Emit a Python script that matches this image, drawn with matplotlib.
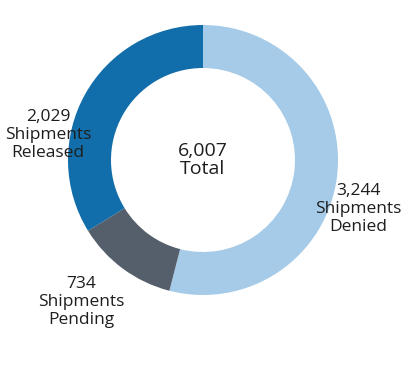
import matplotlib.pyplot as plt
from matplotlib.patches import Rectangle

labels = ['Shipments\nDenied', 'Shipments\nPending', 'Shipments\nReleased']
values = [3244, 734, 2029]
colors = ['#a5cbe8', '#555e6b', '#116eaa']
total = sum(values)

plt.rcParams['font.family'] = ['Open Sans', 'DejaVu Sans']

fig = plt.figure(figsize=(4.14, 3.82), dpi=100)
ax = fig.add_axes([0, 0, 1, 1])

# donut, clockwise from 12 o'clock
ax.pie(values, colors=colors, startangle=90, counterclock=False,
       center=(203, 222), radius=135, frame=True,
       wedgeprops=dict(width=43, linewidth=0))
ax.set_xlim(0, 414)
ax.set_ylim(0, 382)
ax.set_aspect('equal')
ax.axis('off')

# slice labels (right one is cut off by the panel edge)
clip = Rectangle((0, 0), 400, 382, transform=ax.transData)
label_pos = [(358, 173), (81, 80), (48, 247)]
for (x, y), lab, v in zip(label_pos, labels, values):
    t = ax.text(x, y, f"{v:,}\n{lab}", ha='center', va='center',
                fontsize=12.5, color='#1e1e1e', linespacing=1.2)
    t.set_clip_path(clip)

ax.text(203, 222, f"{total:,}\nTotal", ha='center', va='center',
        fontsize=14, color='#1e1e1e', linespacing=1.05)

fig.savefig('out.png', dpi=100)
